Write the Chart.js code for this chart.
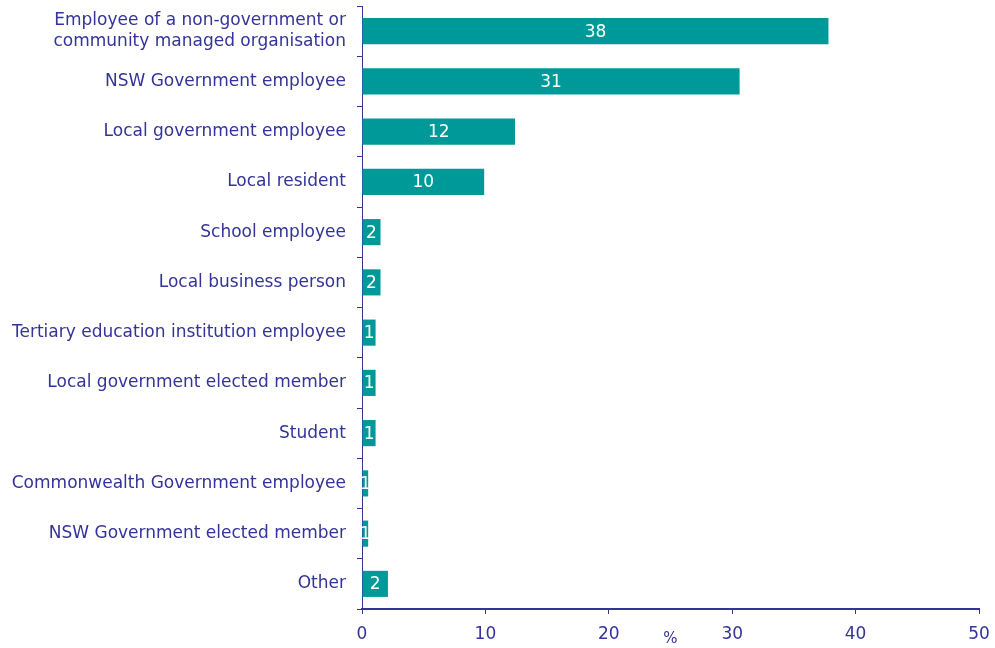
<!DOCTYPE html>
<html>
<head>
<meta charset="utf-8">
<script src="https://cdn.jsdelivr.net/npm/chart.js@4"></script>
<style>
  html, body { margin: 0; padding: 0; background: #fff; }
  #wrap { width: 995px; height: 648px; }
</style>
</head>
<body>
<div id="wrap"><canvas id="chart"></canvas></div>
<script>
// Respondent roles, share of respondents (%)
const roles = [
    ['Employee of a non-government or', 'community managed organisation'],
    'NSW Government employee',
    'Local government employee',
    'Local resident',
    'School employee',
    'Local business person',
    'Tertiary education institution employee',
    'Local government elected member',
    'Student',
    'Commonwealth Government employee',
    'NSW Government elected member',
    'Other'
];
const shares = [37.8, 30.6, 12.4, 9.9, 1.5, 1.5, 1.1, 1.1, 1.1, 0.5, 0.5, 2.1];
const xTicks = [0, 10, 20, 30, 40, 50];

const ink = '#333399';
const teal = '#009999';
const fontFamily = '"DejaVu Sans", Verdana, sans-serif';

// white value labels centred in each bar
const barLabels = {
    id: 'barLabels',
    afterDatasetsDraw(chart) {
        const ctx = chart.ctx;
        const meta = chart.getDatasetMeta(0);
        ctx.save();
        ctx.fillStyle = '#ffffff';
        ctx.font = '17px ' + fontFamily;
        ctx.textAlign = 'center';
        ctx.textBaseline = 'middle';
        meta.data.forEach((bar, i) => {
            const cx = (bar.x + bar.base) / 2;
            ctx.fillText(String(Math.round(shares[i])), cx, bar.y + 1);
        });
        ctx.restore();
    }
};

new Chart(document.getElementById('chart'), {
    type: 'bar',
    data: {
        labels: roles,
        datasets: [{
            data: shares,
            backgroundColor: teal,
            borderWidth: 0,
            categoryPercentage: 1,
            barPercentage: 0.52
        }]
    },
    options: {
        indexAxis: 'y',
        responsive: true,
        maintainAspectRatio: false,
        animation: false,
        layout: { padding: { top: 6, right: 16, bottom: 0, left: 0 } },
        plugins: {
            legend: { display: false },
            tooltip: { enabled: false }
        },
        scales: {
            x: {
                min: 0,
                max: 50,
                afterBuildTicks(scale) {
                    scale.ticks = xTicks.map(v => ({ value: v }));
                },
                afterFit(scale) {
                    scale.height = 39;
                    scale.paddingLeft = 0;
                    scale.paddingRight = 0;
                },
                grid: { drawOnChartArea: false, tickLength: 5, color: ink, tickWidth: 1 },
                border: { color: ink, width: 2 },
                ticks: { color: ink, font: { family: fontFamily, size: 17 }, padding: 10, maxRotation: 0 },
                title: {
                    display: true,
                    text: '%',
                    color: ink,
                    font: { family: fontFamily, size: 15 },
                    padding: { top: 0, bottom: 0 }
                }
            },
            y: {
                afterFit(scale) {
                    scale.width = 362;
                    scale.paddingTop = 0;
                    scale.paddingBottom = 0;
                },
                grid: { drawOnChartArea: false, tickLength: 5, color: ink, offset: true },
                border: { color: ink, width: 1 },
                ticks: { color: ink, font: { family: fontFamily, size: 17, lineHeight: 1.25 }, padding: 11, autoSkip: false }
            }
        }
    },
    plugins: [barLabels]
});
</script>
</body>
</html>
